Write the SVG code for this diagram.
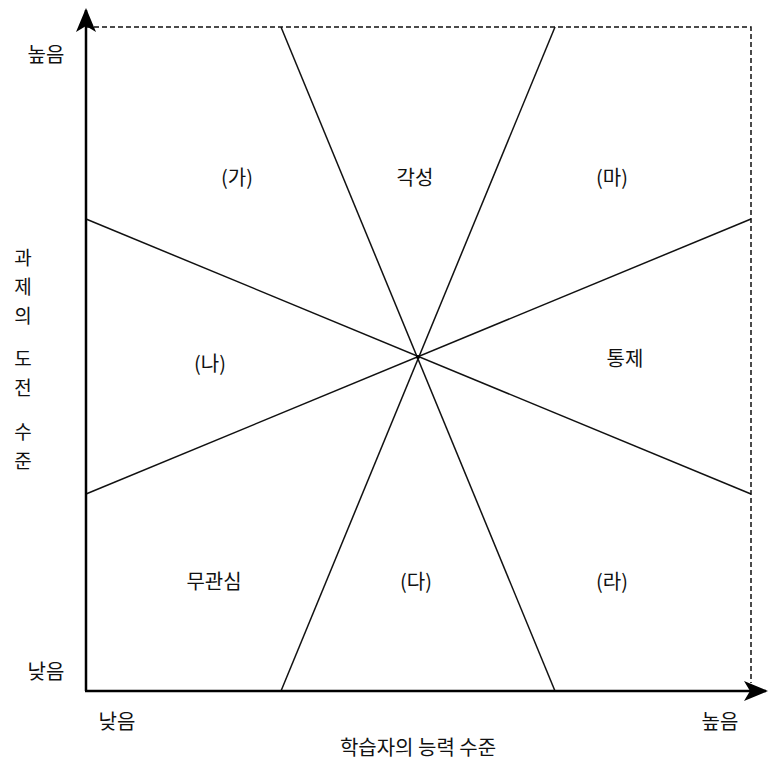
<svg xmlns="http://www.w3.org/2000/svg" width="769" height="763" viewBox="0 0 769 763">
<style>
text{font-family:"Noto Sans CJK KR","Noto Sans",sans-serif;font-size:20px;fill:#111;text-anchor:middle;dominant-baseline:central}
.v{font-size:19px}
.axis{stroke:#000;stroke-width:2.5;fill:none}
.div{stroke:#111;stroke-width:1.5;fill:none}
.dash{stroke:#111;stroke-width:1.5;stroke-dasharray:5,3;fill:none}
</style>
<defs>
<marker id="arr" viewBox="0 0 24 20" refX="22" refY="10" markerWidth="24" markerHeight="20" markerUnits="userSpaceOnUse" orient="auto">
<path d="M0,0 L24,10 L0,20 L6,10 Z" fill="#000"/>
</marker>
</defs>
<rect width="769" height="763" fill="#fff"/>
<g id="connectors">
<path class="dash" d="M86,27 H751 V683"/>
<line class="div" x1="281" y1="27" x2="555" y2="691"/>
<line class="div" x1="555" y1="27" x2="281" y2="691"/>
<line class="div" x1="86" y1="219" x2="751" y2="494"/>
<line class="div" x1="86" y1="494" x2="751" y2="219"/>
<circle cx="418" cy="357" r="2" fill="#000"/>
<path class="axis" d="M86,691 V10" marker-end="url(#arr)"/>
<path class="axis" d="M85,691 H766" marker-end="url(#arr)"/>
</g>
<g id="regions">
<text x="237" y="176">(가)</text>
<text x="415" y="176">각성</text>
<text x="612" y="176">(마)</text>
<text x="210" y="362">(나)</text>
<text x="625" y="357">통제</text>
<text x="214" y="580">무관심</text>
<text x="416" y="580">(다)</text>
<text x="612" y="580">(라)</text>
</g>
<g id="axis-labels">
<text x="46" y="53">높음</text>
<text x="46" y="670">낮음</text>
<text x="117" y="720">낮음</text>
<text x="720" y="720">높음</text>
<text x="418" y="746">학습자의 능력 수준</text>
<text class="v" x="23" y="256">과</text>
<text class="v" x="23" y="285">제</text>
<text class="v" x="23" y="314">의</text>
<text class="v" x="23" y="357">도</text>
<text class="v" x="23" y="386">전</text>
<text class="v" x="23" y="430">수</text>
<text class="v" x="23" y="459">준</text>
</g>
</svg>
